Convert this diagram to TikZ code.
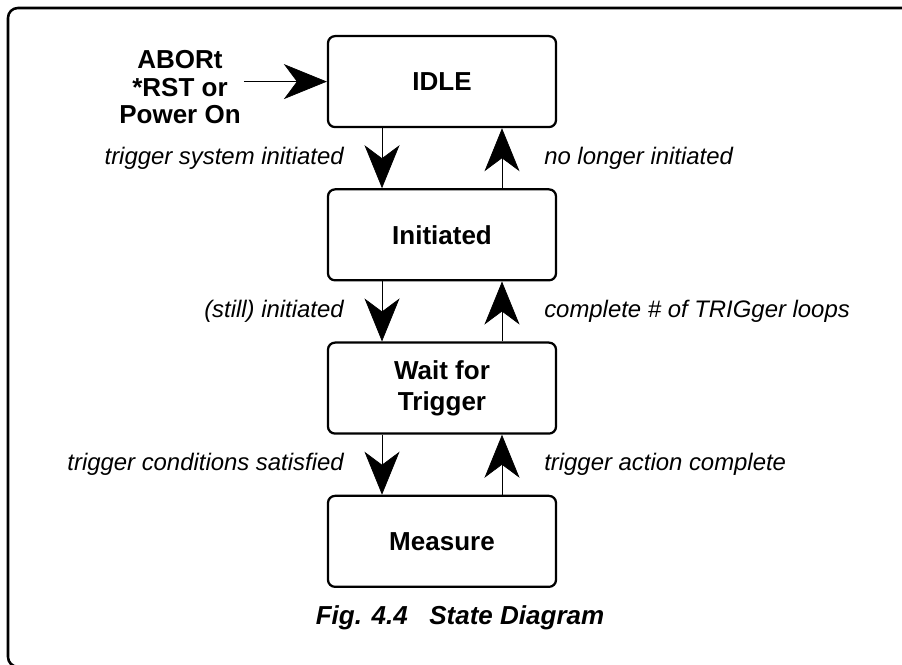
\documentclass[tikz,border=0pt]{standalone}
\usepackage{fontspec}
\setmainfont{Liberation Sans}
\usetikzlibrary{arrows.meta,positioning,calc}
\tikzset{
  state/.style={rectangle, rounded corners=5pt, draw=black, line width=1.6pt,
                minimum width=5.7cm, minimum height=2.275cm, align=center,
                font=\fontsize{18.5}{22}\selectfont\bfseries},
  trans/.style={inner sep=0pt, font=\fontsize{17}{20}\selectfont\itshape},
  arrow/.style={-{Stealth[length=10.75mm, width=8.75mm, inset=3.25mm]},
                line width=0.5pt, draw=black},
  frame/.style={rounded corners=7pt, line width=1.8pt}
}
\begin{document}
\begin{tikzpicture}

\useasboundingbox (0,0) rectangle (22.55,-16.6);
\draw[frame] (0.2,-0.2) rectangle (23.5,-16.67);

% --- States ---
\node[state] (idle) at (11.05,-2.04) {IDLE};
\node[state, below=1.5cm of idle] (init) {Initiated};
\node[state, below=1.5cm of init] (wait) {Wait for\\Trigger};
\node[state, below=1.5cm of wait] (meas) {Measure};

% --- Entry ---
\node[align=center, inner sep=2pt, font=\fontsize{18.5}{19.5}\selectfont\bfseries]
  (abort) at (4.5,-2.18) {ABORt\\*RST or\\Power On};
\draw[arrow] (abort.east |- idle.west) -- (idle.west);

% --- Transitions ---
\draw[arrow] ([xshift=-1.5cm]idle.south) -- ([xshift=-1.5cm]init.north);
\draw[arrow] ([xshift=1.5cm]init.north) -- ([xshift=1.5cm]idle.south);
\draw[arrow] ([xshift=-1.5cm]init.south) -- ([xshift=-1.5cm]wait.north);
\draw[arrow] ([xshift=1.5cm]wait.north) -- ([xshift=1.5cm]init.south);
\draw[arrow] ([xshift=-1.5cm]wait.south) -- ([xshift=-1.5cm]meas.north);
\draw[arrow] ([xshift=1.5cm]meas.north) -- ([xshift=1.5cm]wait.south);

% --- Transition labels ---
\node[trans, anchor=east] (t1) at ($(idle.south)!0.5!(init.north)+(-2.45,0)$)
  {trigger system initiated};
\node[trans, anchor=west] (t2) at ($(idle.south)!0.5!(init.north)+(2.55,0)$)
  {no longer initiated};
\node[trans, anchor=east] (t3) at ($(init.south)!0.5!(wait.north)+(-2.45,0)$)
  {(still) initiated};
\node[trans, anchor=west] (t4) at ($(init.south)!0.5!(wait.north)+(2.55,0)$)
  {complete \# of TRIGger loops};
\node[trans, anchor=east] (t5) at ($(wait.south)!0.5!(meas.north)+(-2.45,0)$)
  {trigger conditions satisfied};
\node[trans, anchor=west] (t6) at ($(wait.south)!0.5!(meas.north)+(2.55,0)$)
  {trigger action complete};

% --- Caption ---
\node[font=\fontsize{18.5}{20}\selectfont\bfseries\itshape] (cap)
  at ($(meas.south)+(0.45,-0.75)$) {Fig. 4.4\hspace{0.83em}State Diagram};

\end{tikzpicture}
\end{document}
